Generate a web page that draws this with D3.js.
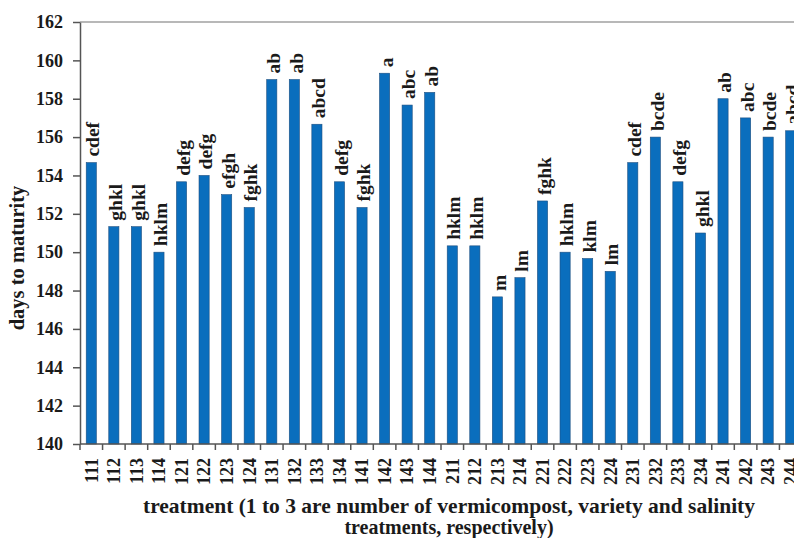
<!DOCTYPE html>
<html>
<head>
<meta charset="utf-8">
<script src="https://cdn.jsdelivr.net/npm/d3@7"></script>
<style>
  body { margin: 0; background: #fff; }
  svg { display: block; }
  text { font-family: "Liberation Serif", "Times New Roman", serif; font-weight: bold; fill: #1a1a1a; }
</style>
</head>
<body>
<div id="box"></div>
<script>
'use strict';

var treatments = ["111","112","113","114","121","122","123","124","131","132","133","134","141","142","143","144",
                  "211","212","213","214","221","222","223","224","231","232","233","234","241","242","243","244"];
var daysToMaturity = [154.67,151.33,151.33,150.0,153.67,154.0,153.0,152.33,159.0,159.0,156.67,153.67,152.33,159.33,157.67,158.33,
                      150.33,150.33,147.67,148.67,152.67,150.0,149.67,149.0,154.67,156.0,153.67,151.0,158.0,157.0,156.0,156.33];
var groups = ["cdef","ghkl","ghkl","hklm","defg","defg","efgh","fghk","ab","ab","abcd","defg","fghk","a","abc","ab",
              "hklm","hklm","m","lm","fghk","hklm","klm","lm","cdef","bcde","defg","ghkl","ab","abc","bcde","abcd"];
var yTicks = [140,142,144,146,148,150,152,154,156,158,160,162];

var data = treatments.map(function(t, i) {
  return { treatment: t, days: daysToMaturity[i], group: groups[i] };
});

var width = 794, height = 538;
var margin = { top: 22, left: 80, bottom: 94 };

var svg = d3.select("#box")
  .append("svg")
    .attr("width", width)
    .attr("height", height);

// plot area runs a bit past the right edge, like the cropped original
var x = d3.scaleBand()
  .domain(treatments)
  .range([margin.left, 802])
  .paddingInner(0.55)
  .paddingOuter(0.275);

var y = d3.scaleLinear()
  .domain([140, 162])
  .range([height - margin.bottom, margin.top]);

// top border line
svg.append("line")
  .attr("x1", margin.left).attr("x2", width)
  .attr("y1", y(162)).attr("y2", y(162))
  .attr("stroke", "#a0a0a0")
  .attr("stroke-width", 1.5);

// bars
svg.selectAll("rect.bar")
  .data(data)
  .enter().append("rect")
    .attr("class", "bar")
    .attr("x", function(d) { return x(d.treatment); })
    .attr("width", x.bandwidth())
    .attr("y", function(d) { return y(d.days); })
    .attr("height", function(d) { return y(140) - y(d.days); })
    .attr("fill", "#0a6ebd")
    .attr("stroke", "#1d4f80")
    .attr("stroke-width", 0.6);

// letter groups above bars
svg.selectAll("text.grp")
  .data(data)
  .enter().append("text")
    .attr("class", "grp")
    .attr("transform", function(d) {
      return "translate(" + (x(d.treatment) + x.bandwidth() / 2) + "," + (y(d.days) - 6) + ") rotate(-90)";
    })
    .attr("dy", "0.42em")
    .style("font-size", "19.5px")
    .style("text-anchor", "start")
    .text(function(d) { return d.group; });

// Y axis
var yAxis = svg.append("g")
  .attr("transform", "translate(" + margin.left + ",0)")
  .call(d3.axisLeft(y).tickValues(yTicks).tickSize(7).tickPadding(10).tickSizeOuter(0));
yAxis.selectAll("text")
  .style("font-size", "18px")
  .style("font-family", "Liberation Serif, serif")
  .attr("fill", "#1a1a1a");
yAxis.selectAll("line").attr("stroke", "#555").attr("stroke-width", 1.5);
yAxis.select(".domain").attr("stroke", "#555").attr("stroke-width", 1.5);

// X axis (labels only, ticks at band boundaries drawn below)
var xAxis = svg.append("g")
  .attr("transform", "translate(0," + y(140) + ")")
  .call(d3.axisBottom(x).tickSize(0).tickSizeOuter(0));
xAxis.select(".domain").attr("d", "M" + margin.left + ",0H" + width).attr("stroke", "#555").attr("stroke-width", 1.5);
xAxis.selectAll("text")
  .style("font-size", "18px")
  .style("font-family", "Liberation Serif, serif")
  .attr("fill", "#1a1a1a")
  .attr("transform", "rotate(-90)")
  .attr("x", -14)
  .attr("y", 0)
  .attr("dy", "0.35em")
  .style("text-anchor", "end");

xAxis.selectAll("line.bound")
  .data(treatments)
  .enter().append("line")
    .attr("class", "bound")
    .attr("x1", function(d) { return x(d) - x.step() * x.paddingOuter(); })
    .attr("x2", function(d) { return x(d) - x.step() * x.paddingOuter(); })
    .attr("y1", 0).attr("y2", 6)
    .attr("stroke", "#555")
    .attr("stroke-width", 1.5);

// axis titles
svg.append("text")
  .attr("transform", "translate(24,258) rotate(-90)")
  .style("text-anchor", "middle")
  .style("font-size", "20.5px")
  .text("days to maturity");

svg.append("text")
  .attr("x", 449).attr("y", 513)
  .style("text-anchor", "middle")
  .style("font-size", "21.5px")
  .text("treatment (1 to 3 are number of vermicompost, variety and salinity");
svg.append("text")
  .attr("x", 449).attr("y", 534)
  .style("text-anchor", "middle")
  .style("font-size", "20px")
  .text("treatments, respectively)");
</script>
</body>
</html>
